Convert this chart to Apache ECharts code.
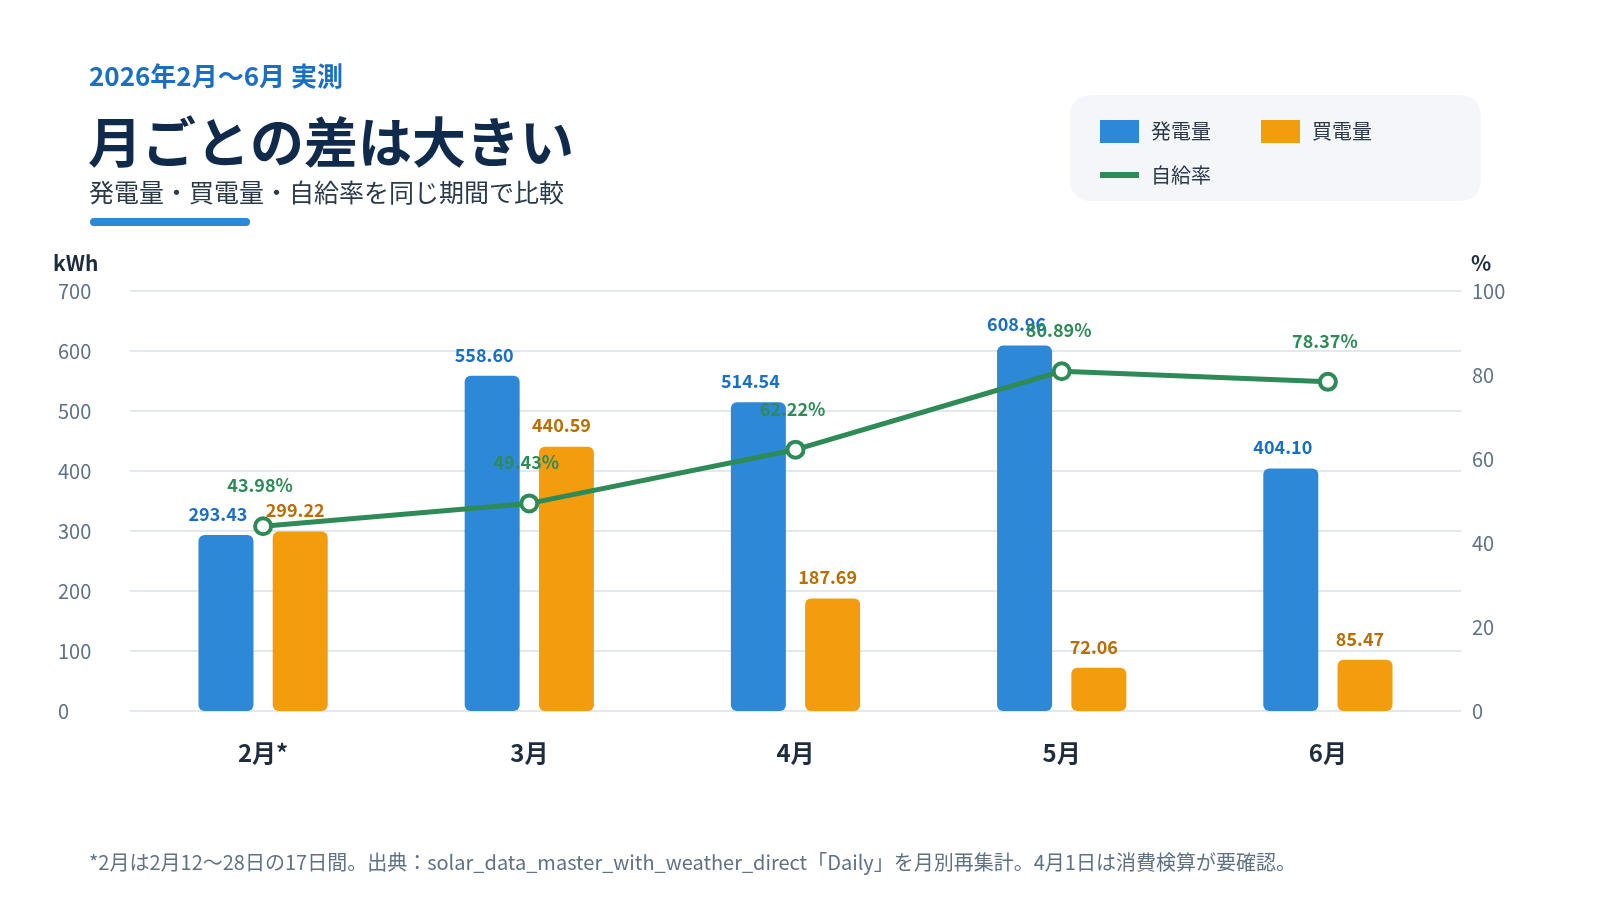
<!DOCTYPE html>
<html>
<head>
<meta charset="utf-8">
<script src="https://cdn.jsdelivr.net/npm/echarts@6/dist/echarts.min.js"></script>
<style>
  html, body { margin: 0; padding: 0; background: #fff; }
  #chart { width: 1600px; height: 900px; }
</style>
</head>
<body>
<div id="chart"></div>
<script>
var FONT = '"Noto Sans CJK JP", "Noto Sans", sans-serif';

// monthly data (kWh, %)
var months = ['2月*', '3月', '4月', '5月', '6月'];
var generated = [293.43, 558.60, 514.54, 608.96, 404.10];
var purchased = [299.22, 440.59, 187.69, 72.06, 85.47];
var selfRate = [43.98, 49.43, 62.22, 80.89, 78.37];

var BLUE = '#2d88d8';
var ORANGE = '#f39c0e';
var GREEN = '#2e8b57';

var chart = echarts.init(document.getElementById('chart'));

var option = {
  backgroundColor: '#ffffff',
  textStyle: { fontFamily: FONT },
  animation: false,
  graphic: [
    { type: 'text', left: 89, top: 63,
      style: { text: '2026年2月〜6月 実測', font: 'bold 26px ' + FONT, fill: '#1a6fc4' } },
    { type: 'text', left: 88, top: 115,
      style: { text: '月ごとの差は大きい', font: 'bold 54px ' + FONT, fill: '#102a4c' } },
    { type: 'text', left: 89, top: 180,
      style: { text: '発電量・買電量・自給率を同じ期間で比較', font: '25px ' + FONT, fill: '#2b3a4b' } },
    { type: 'rect', left: 90, top: 218,
      shape: { width: 160, height: 8, r: 4 }, style: { fill: '#2e88d8' } },
    { type: 'rect', left: 1070, top: 95, z: -1,
      shape: { width: 411, height: 106, r: 20 }, style: { fill: '#f4f6fa' } },
    { type: 'text', left: 53, top: 253,
      style: { text: 'kWh', font: 'bold 21px ' + FONT, fill: '#1e2d3d' } },
    { type: 'text', left: 1471, top: 253,
      style: { text: '%', font: 'bold 21px ' + FONT, fill: '#1e2d3d' } },
    { type: 'text', left: 89, top: 852,
      style: {
        text: '*2月は2月12〜28日の17日間。出典：solar_data_master_with_weather_direct「Daily」を月別再集計。4月1日は消費検算が要確認。',
        font: '20px ' + FONT, fill: '#5f7185'
      } }
  ],
  legend: [
    {
      data: ['発電量', '買電量'],
      left: 1100, top: 120, padding: 0,
      icon: 'rect',
      itemWidth: 39, itemHeight: 23, itemGap: 50,
      textStyle: { fontSize: 20, color: '#2b3a4b', fontFamily: FONT, padding: [0, 0, 0, 7] }
    },
    {
      data: ['自給率'],
      left: 1100, top: 165, padding: 0,
      icon: 'rect',
      itemWidth: 39, itemHeight: 6,
      itemStyle: { color: GREEN, borderWidth: 0 },
      textStyle: { fontSize: 20, color: '#2b3a4b', fontFamily: FONT, padding: [0, 0, 0, 7] }
    }
  ],
  grid: { left: 130, right: 139, top: 291, bottom: 189 },
  xAxis: {
    type: 'category',
    data: months,
    axisLine: { show: false },
    axisTick: { show: false },
    axisLabel: { margin: 30, fontSize: 24, fontWeight: 'bold', color: '#1e2d3d', fontFamily: FONT }
  },
  yAxis: [
    {
      type: 'value',
      min: 0, max: 700, interval: 100,
      axisLine: { show: false },
      axisTick: { show: false },
      axisLabel: { margin: 72, align: 'left', fontSize: 20, color: '#5f7185', fontFamily: FONT },
      splitLine: { lineStyle: { color: '#e3e8ee', width: 2 } }
    },
    {
      type: 'value',
      min: 0, max: 100, interval: 20,
      axisLine: { show: false },
      axisTick: { show: false },
      axisLabel: { margin: 11, fontSize: 20, color: '#5f7185', fontFamily: FONT },
      splitLine: { show: false }
    }
  ],
  series: [
    {
      name: '発電量',
      type: 'bar',
      data: generated,
      barWidth: 55,
      barGap: '35%',
      itemStyle: { color: BLUE, borderRadius: 6 },
      label: {
        show: true, position: 'top', distance: 12, offset: [-8, 0],
        fontSize: 18, fontWeight: 'bold', color: '#1a6fc4', fontFamily: FONT,
        formatter: function (p) { return p.value.toFixed(2); }
      }
    },
    {
      name: '買電量',
      type: 'bar',
      data: purchased,
      barWidth: 55,
      itemStyle: { color: ORANGE, borderRadius: 6 },
      label: {
        show: true, position: 'top', distance: 12, offset: [-5, 0],
        fontSize: 18, fontWeight: 'bold', color: '#b86e00', fontFamily: FONT,
        formatter: function (p) { return p.value.toFixed(2); }
      }
    },
    {
      name: '自給率',
      type: 'line',
      yAxisIndex: 1,
      data: selfRate,
      symbol: 'circle',
      symbolSize: 16,
      z: 5,
      lineStyle: { color: GREEN, width: 5 },
      itemStyle: { color: '#ffffff', borderColor: GREEN, borderWidth: 4 },
      label: {
        show: true, position: 'top', distance: 22, offset: [-3, 0],
        fontSize: 18, fontWeight: 'bold', color: GREEN, fontFamily: FONT,
        formatter: function (p) { return p.value.toFixed(2) + '%'; }
      }
    }
  ]
};

chart.setOption(option);
</script>
</body>
</html>
